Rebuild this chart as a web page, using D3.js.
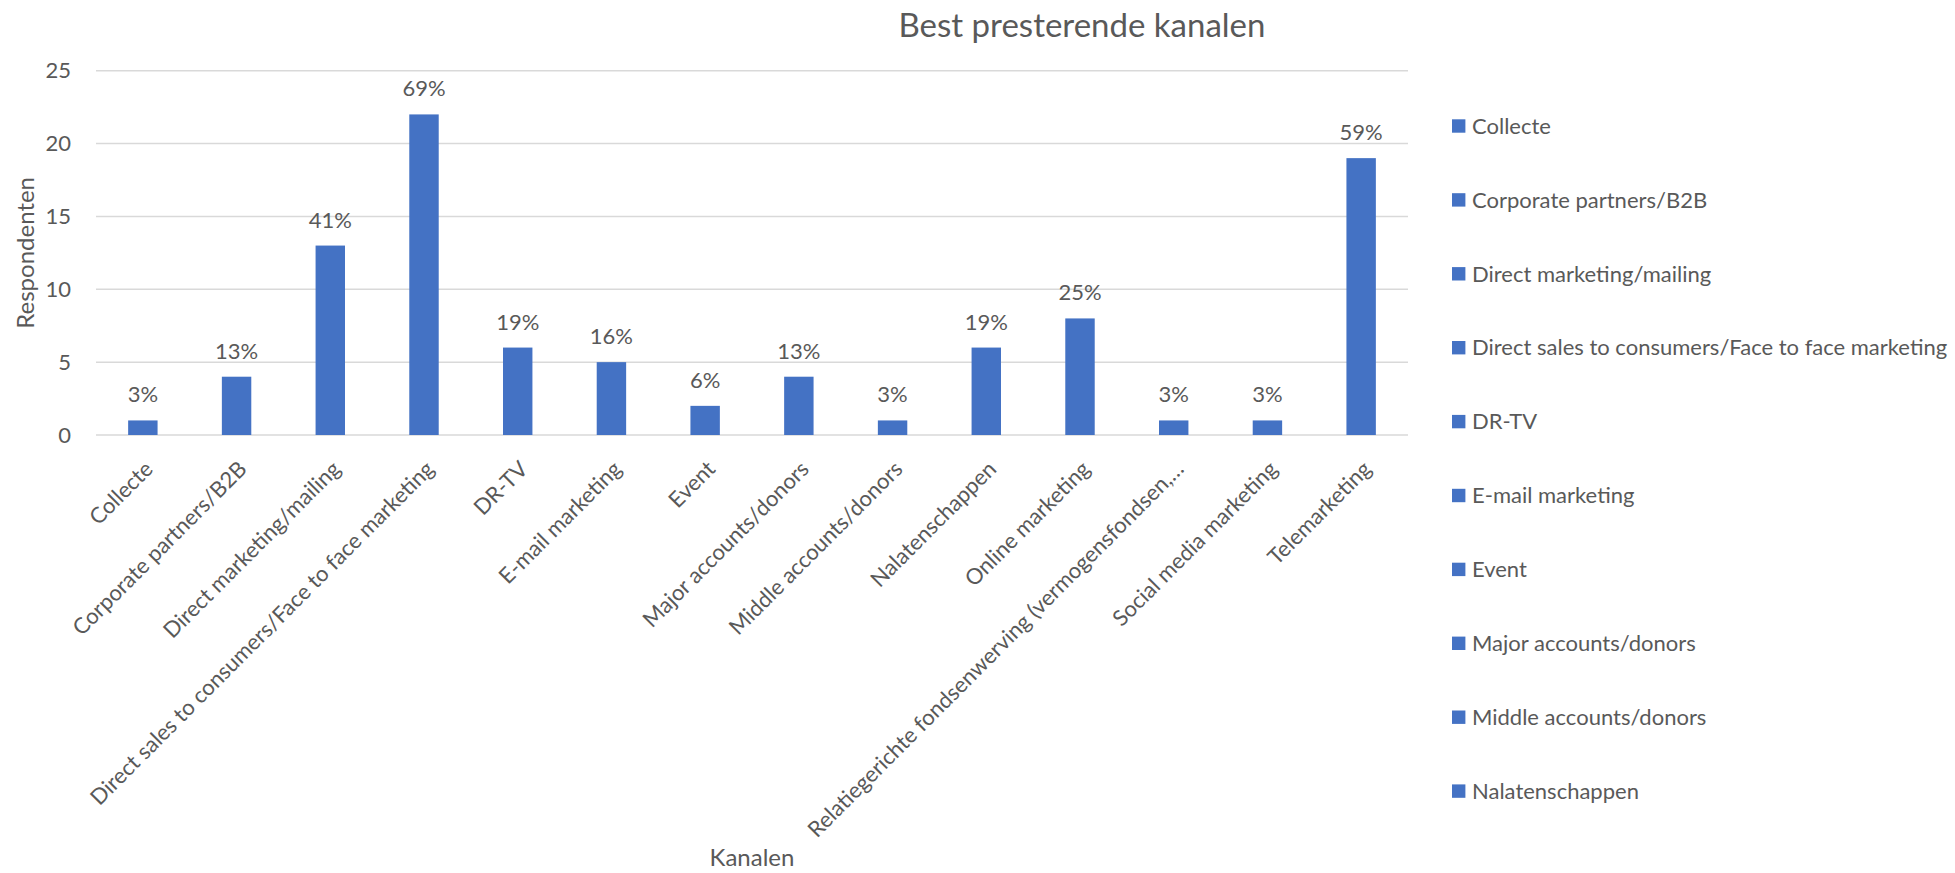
<!DOCTYPE html>
<html>
<head>
<meta charset="utf-8">
<script src="https://cdn.jsdelivr.net/npm/d3@7"></script>
<style>
  body { margin: 0; background: #fff; }
  text { font-family: Lato, "Open Sans", sans-serif; fill: #595959; }
</style>
</head>
<body>
<div id="root"></div>
<script>
// Data.
const categories = [
  'Collecte', 'Corporate partners/B2B', 'Direct marketing/mailing',
  'Direct sales to consumers/Face to face marketing', 'DR-TV', 'E-mail marketing',
  'Event', 'Major accounts/donors', 'Middle accounts/donors', 'Nalatenschappen',
  'Online marketing', 'Relatiegerichte fondsenwerving (vermogensfondsen,\u2026',
  'Social media marketing', 'Telemarketing'
];
const respondents = [1, 4, 13, 22, 6, 5, 2, 4, 1, 6, 8, 1, 1, 19];
const percentLabels = ['3%', '13%', '41%', '69%', '19%', '16%', '6%', '13%', '3%', '19%', '25%', '3%', '3%', '59%'];
const yTicks = [0, 5, 10, 15, 20, 25];
// Excel only shows the legend entries that fit.
const legendItems = categories.slice(0, 10);

const W = 1955, H = 873;
const margin = { top: 70.7, left: 96, right: 1955 - 1408, bottom: 873 - 435 };
const width = W - margin.left - margin.right;
const height = H - margin.top - margin.bottom;
const barColor = '#4472C4';

const svg = d3.select('#root')
  .append('svg')
  .attr('width', W)
  .attr('height', H);

const x = d3.scaleBand()
  .domain(categories)
  .range([0, width])
  .paddingInner(0.686)
  .paddingOuter(0.343);

const y = d3.scaleLinear()
  .domain([0, 25])
  .range([height, 0]);

const g = svg.append('g')
  .attr('transform', `translate(${margin.left},${margin.top})`);

// Gridlines
g.selectAll('.grid')
  .data(yTicks)
  .enter()
  .append('line')
  .attr('x1', 0)
  .attr('x2', width)
  .attr('y1', d => y(d))
  .attr('y2', d => y(d))
  .attr('stroke', '#d9d9d9')
  .attr('stroke-width', 1.5);

// Y axis labels
const yAxis = d3.axisLeft(y).tickValues(yTicks).tickSize(0).tickPadding(25);
g.append('g')
  .call(yAxis)
  .call(s => s.select('.domain').remove())
  .selectAll('text')
  .style('font-size', '22px')
  .style('font-family', 'Lato, sans-serif')
  .attr('fill', '#595959');

// Bars
g.selectAll('.bar')
  .data(respondents)
  .enter()
  .append('rect')
  .attr('class', 'bar')
  .attr('x', (d, i) => x(categories[i]))
  .attr('y', d => y(d))
  .attr('width', x.bandwidth())
  .attr('height', d => height - y(d))
  .attr('fill', barColor);

// Data labels
g.selectAll('.lbl')
  .data(respondents)
  .enter()
  .append('text')
  .attr('class', 'lbl')
  .attr('x', (d, i) => x(categories[i]) + x.bandwidth() / 2)
  .attr('y', d => y(d) - 18)
  .attr('text-anchor', 'middle')
  .style('font-size', '22px')
  .text((d, i) => percentLabels[i]);

// X axis category labels, rotated
g.selectAll('.xlab')
  .data(categories)
  .enter()
  .append('text')
  .attr('class', 'xlab')
  .attr('transform', d => `translate(${x(d) + x.bandwidth() / 2 + 6},${height + 30}) rotate(-45)`)
  .attr('text-anchor', 'end')
  .attr('dy', '0.35em')
  .style('font-size', '22px')
  .text(d => d);

// Title
svg.append('text')
  .attr('x', 1082)
  .attr('y', 37)
  .attr('text-anchor', 'middle')
  .style('font-size', '33px')
  .text('Best presterende kanalen');

// Axis titles
svg.append('text')
  .attr('x', margin.left + width / 2)
  .attr('y', 866)
  .attr('text-anchor', 'middle')
  .style('font-size', '24px')
  .text('Kanalen');

svg.append('text')
  .attr('transform', `translate(34,${margin.top + height / 2}) rotate(-90)`)
  .attr('text-anchor', 'middle')
  .style('font-size', '24px')
  .text('Respondenten');

// Legend
const legend = svg.append('g')
  .selectAll('g')
  .data(legendItems)
  .enter()
  .append('g')
  .attr('transform', (d, i) => `translate(1452,${126 + i * 73.9})`);

legend.append('rect')
  .attr('x', 0)
  .attr('y', -6.7)
  .attr('width', 13.4)
  .attr('height', 13.4)
  .attr('fill', barColor);

legend.append('text')
  .attr('x', 20)
  .attr('dy', '0.35em')
  .style('font-size', '22px')
  .text(d => d);
</script>
</body>
</html>
